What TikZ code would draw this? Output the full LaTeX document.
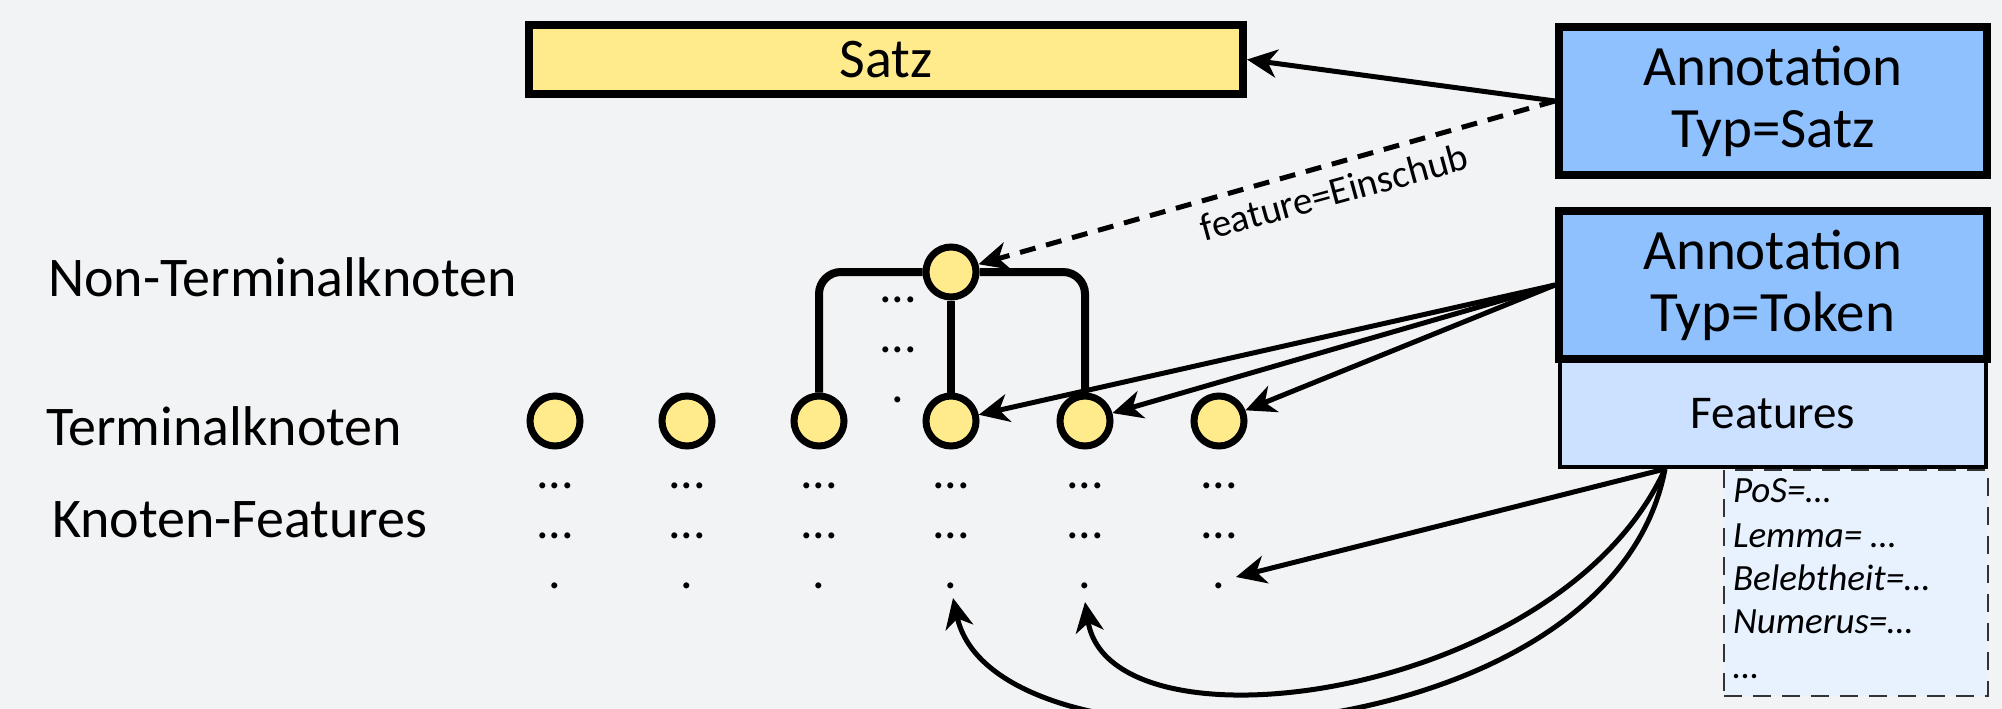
\documentclass[tikz,border=0pt]{standalone}
\usepackage{fontspec}
\setmainfont{Carlito}
\usetikzlibrary{arrows.meta}
\definecolor{bg}{HTML}{F2F3F5}
\definecolor{yel}{HTML}{FFEB8C}
\definecolor{annblue}{HTML}{8FC1FF}
\definecolor{featblue}{HTML}{CCE1FF}
\definecolor{listblue}{HTML}{E8F2FF}
\definecolor{dashgray}{HTML}{333333}
\begin{document}
\begin{tikzpicture}[x=1pt,y=-1pt,
  every node/.style={inner sep=0pt, outer sep=0pt},
  lbl/.style={font=\fontsize{56}{60}\selectfont, anchor=base west},
  ybox/.style={draw, line width=8pt, fill=yel, outer sep=4pt, minimum width=714pt, minimum height=69pt, font=\fontsize{56}{60}\selectfont},
  abox/.style={draw, line width=8pt, fill=annblue, outer sep=4pt, minimum width=428pt, minimum height=148pt, align=center, font=\fontsize{57}{62}\selectfont},
  fbox/.style={draw, line width=4pt, fill=featblue, outer sep=2pt, minimum width=426pt, minimum height=106pt, font=\fontsize{47}{50}\selectfont},
  lbox/.style={draw=dashgray, line width=2.5pt, dash pattern=on 18pt off 11pt, fill=listblue, minimum width=264pt, minimum height=226pt},
  litem/.style={font=\fontsize{37}{40}\selectfont\itshape, anchor=base west},
  knot/.style={circle, draw, line width=7pt, fill=yel, outer sep=3.5pt, minimum size=50pt},
  dotrow/.style={font=\fontsize{50}{50}\selectfont, anchor=base},
  elabel/.style={font=\fontsize{39}{40}\selectfont},
  conn/.style={line width=5pt, -{Stealth[length=30pt,width=28pt,inset=9pt]}},
  dconn/.style={conn, dash pattern=on 16pt off 11pt},
  tree/.style={line width=8pt, rounded corners=22pt},
]
\fill[bg] (0,0) rectangle (2002,709);
\clip (0,0) rectangle (2002,709);

% left labels
\node[lbl] (lnt) at (48,296) {Non-Terminalknoten};
\node[lbl] (lt) at (46,445) {Terminalknoten};
\node[lbl] (lkf) at (52,537) {Knoten-Features};

% boxes
\node[ybox] (satz) at (886,59.5) {Satz};
\node[lbox] (list) at (1856,583) {};
\node[fbox] (feat) at (1773,414) {Features};
\node[abox] (anns) at (1773,101) {Annotation\\Typ=Satz};
\node[abox] (annt) at (1773,285) {Annotation\\Typ=Token};

% feature list
\node[litem] (i1) at (1733,502) {PoS=…};
\node[litem] (i2) at (1733,547) {Lemma= …};
\node[litem] (i3) at (1733,590) {Belebtheit=…};
\node[litem] (i4) at (1733,633) {Numerus=…};
\node[litem] (i5) at (1733,678) {…};

% tree
\node[knot] (root) at (951,272) {};
\foreach \i/\x in {1/555,2/687,3/819,4/951,5/1085,6/1219}{
  \node[knot] (t\i) at (\x,421) {};
  \node[dotrow] (da\i) at (\x,488) {...};
  \node[dotrow] (db\i) at (\x,538) {...};
  \node[dotrow] (dc\i) at (\x,588) {.};
}
\node[dotrow] (ma) at (898,302) {...};
\node[dotrow] (mb) at (898,352) {...};
\node[dotrow] (mc) at (898,402) {.};

\draw[tree] (root.west) -| (t3.north);
\draw[tree] (root.east) -| (t5.north);
\draw[tree] (root.south) -- (t4.north);

% connectors
\draw[conn] (anns.west) -- (satz.east);
\draw[dconn] (anns.west) -- (root);
\node[elabel, rotate=15.3] (flab) at (1334,192) {feature=Einschub};
\draw[conn] (annt.west) -- (t4);
\draw[conn] (annt.west) -- (t5);
\draw[conn] (annt.west) -- (t6);

\coordinate (fs) at (1665,469);
\coordinate (tip6) at (1236,577);
\coordinate (tip5) at (1085,602);
\coordinate (tip4) at (953,598);
\draw[conn] (fs) -- (tip6);
\draw[conn] (fs) .. controls (1560,700) and (1110,760) .. (tip5);
\draw[conn] (fs) .. controls (1610,760) and (995,790) .. (tip4);
\end{tikzpicture}
\end{document}
